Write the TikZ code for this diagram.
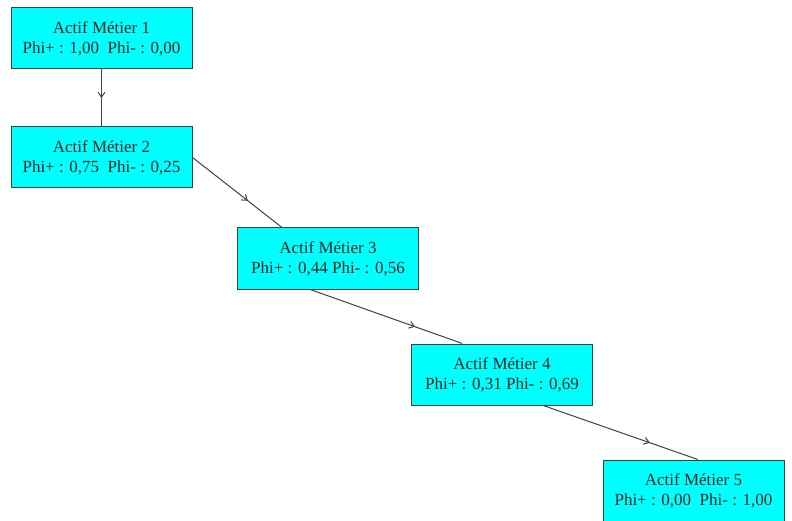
\documentclass[tikz,border=0pt]{standalone}
\usepackage{fontspec}
\setmainfont{Liberation Serif}
\usetikzlibrary{arrows.meta,decorations.markings}
\definecolor{aqua}{RGB}{0,255,255}
\tikzset{
  actif/.style={draw=black!75, line width=1pt, fill=aqua, text=black!85,
    minimum width=181pt, minimum height=61pt, align=center,
    font=\fontsize{17}{20}\selectfont, inner sep=0pt},
  flow/.style={draw=black!75, line width=1pt, postaction={decorate},
    decoration={markings, mark=at position #1 with
      {\arrow{Straight Barb[length=5pt,width=7pt]}}}}
}

\begin{document}
\begin{tikzpicture}[x=1pt, y=-1pt]
  \useasboundingbox (0,0) rectangle (792,521);
  \node[actif] (a1) at (101.5,38.5) {Actif Métier 1\\Phi+ : 1,00\ \ Phi- : 0,00};
  \node[actif] (a2) at (101.5,157.5) {Actif Métier 2\\Phi+ : 0,75\ \ Phi- : 0,25};
  \node[actif] (a3) at (328,258.5) {Actif Métier 3\\Phi+ : 0,44 Phi- : 0,56};
  \node[actif] (a4) at (502,374.5) {Actif Métier 4\\Phi+ : 0,31 Phi- : 0,69};
  \node[actif] (a5) at (693.5,490.5) {Actif Métier 5\\Phi+ : 0,00\ \ Phi- : 1,00};
  \draw[flow=0.5] (a1.south) -- (a2.north);
  \draw[flow=0.62] (a2.east) -- (a3.146);
  \draw[flow=0.69] (a3.-120) -- (a4.142);
  \draw[flow=0.69] (a4.-37) -- (a5.82);
\end{tikzpicture}
\end{document}
